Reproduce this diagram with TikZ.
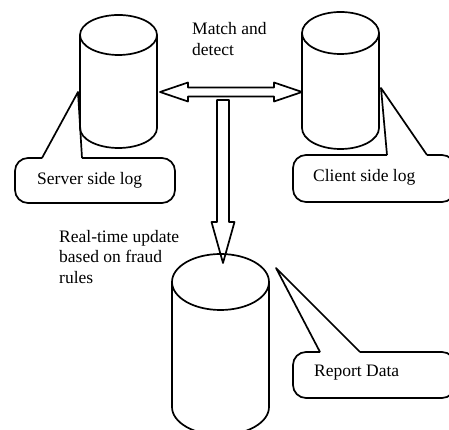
\documentclass[tikz,border=0pt]{standalone}
\usepackage{fontspec}
\setmainfont{Liberation Serif}
\usetikzlibrary{calc,positioning}

\tikzset{
  line/.style={line width=1.7pt, line join=round},
  lbl/.style={inner sep=0pt, anchor=west, align=left, font=\fontsize{17.5}{20.5}\selectfont},
}

% cylinder: centre x, top y, bottom y, x radius, y radius
\newcommand{\logcyl}[5]{%
  \draw[line] (#1-#4,#2) -- (#1-#4,#3) arc[start angle=180,end angle=360,x radius=#4,y radius=#5] -- (#1+#4,#2);
  \draw[line] (#1,#2) ellipse[x radius=#4,y radius=#5];
}

\begin{document}
\begin{tikzpicture}[x=1pt,y=1pt]
\clip (0,0) rectangle (449,430);

% databases
\logcyl{118.5}{395}{302}{38.5}{20}
\logcyl{340.5}{397}{302}{38.5}{21}
\logcyl{220.5}{148}{23}{48.5}{28}

% arrow ends
\coordinate (hl) at (160,338);
\coordinate (hr) at (302,338);
\coordinate (vt) at (223,330);
\coordinate (vb) at (223,167);

% match and detect
\draw[line] (hl) -- ($(hl)+(28,9.5)$) -- ($(hl)+(28,4.5)$) -- ($(hr)+(-28,4.5)$)
  -- ($(hr)+(-28,9.5)$) -- (hr) -- ($(hr)+(-28,-9.5)$) -- ($(hr)+(-28,-4.5)$)
  -- ($(hl)+(28,-4.5)$) -- ($(hl)+(28,-9.5)$) -- cycle;
% update
\draw[line] ($(vt)+(-6,0)$) -- ($(vb)+(-6,41)$) -- ($(vb)+(-11.5,41)$) -- (vb)
  -- ($(vb)+(11.5,41)$) -- ($(vb)+(6,41)$) -- ($(vt)+(6,0)$) -- cycle;

% callouts
\coordinate (srvtip) at (78,338);
\coordinate (clitip) at (381,342);
\coordinate (reptip) at (276,162);

\draw[line,rounded corners=13] (42,272) -- (15,272) -- (15,227) -- (175,227) -- (175,272) -- (82,272);
\draw[line] (42,272) -- (srvtip) -- (82,272);

\draw[line,rounded corners=13] (387,275) -- (293,275) -- (293,228) -- (455,228) -- (455,275) -- (427,275);
\draw[line] (387,275) -- (clitip) -- (427,275);

\draw[line,rounded corners=13] (320,78) -- (293,78) -- (293,32) -- (455,32) -- (455,78) -- (360,78);
\draw[line] (320,78) -- (reptip) -- (360,78);

% labels
\node[lbl] (srvlog) at (37,250) {Server side log};
\node[lbl] (clilog) at (313,253) {Client side log};
\node[lbl] (repdata) at (314,57) {Report Data};
\node[lbl] (match) at (192,391) {Match and\\detect};
\node[lbl] (update) at (59,173) {Real-time update\\based on fraud\\rules};
\end{tikzpicture}
\end{document}
